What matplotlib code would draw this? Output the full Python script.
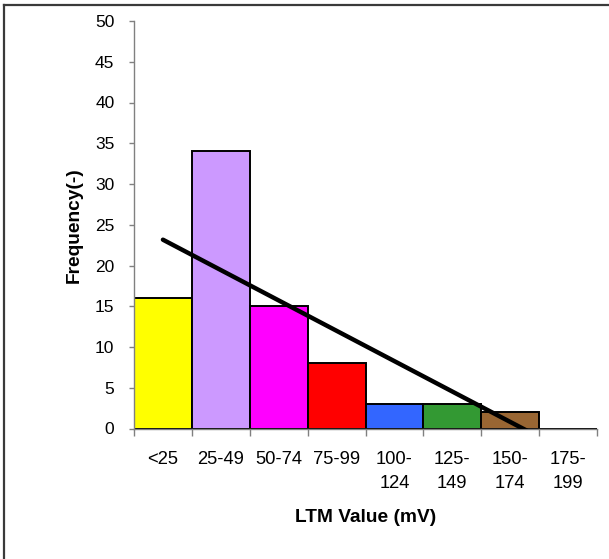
import numpy as np
import matplotlib.pyplot as plt
from matplotlib.lines import Line2D

# Frequency of LTM values per 25 mV bin
categories = ["<25", "25-49", "50-74", "75-99", "100-\n124", "125-\n149", "150-\n174", "175-\n199"]
counts = [16, 34, 15, 8, 3, 3, 2, 0]
bar_colors = ["#FFFF00", "#CC99FF", "#FF00FF", "#FF0000", "#3366FF", "#339933", "#996633", "#FFFFFF"]

plt.rcParams["font.family"] = ["Liberation Sans", "DejaVu Sans"]

fig = plt.figure(figsize=(6.09, 5.59), dpi=100)
ax = fig.add_axes([134 / 609, 1 - 428.5 / 559, 463 / 609, 407.5 / 559])

x = np.arange(1, len(counts) + 1)
ax.bar(x, counts, width=1.0, color=bar_colors, edgecolor="black", linewidth=1.4, zorder=2)

# linear trend over all bins
slope, icpt = np.polyfit(x, counts, 1)
ax.plot([1, 8], [icpt + slope * 1, icpt + slope * 8], color="black", linewidth=3.2,
        solid_capstyle="round", zorder=3)

ax.set_xlim(0.5, 8.5)
ax.set_ylim(0, 50)
ax.set_yticks(np.arange(0, 51, 5))

# ticks at bin edges, labels at bin centres
ax.set_xticks(np.arange(0.5, 9, 1))
ax.set_xticklabels([])
ax.set_xticks(x, minor=True)
ax.set_xticklabels(categories, minor=True, linespacing=1.55, va="top")
ax.tick_params(axis="x", which="major", length=4.7, width=1, color="#808080", direction="out")
ax.tick_params(axis="x", which="minor", length=0, pad=16, labelsize=13.2)
ax.tick_params(axis="y", length=3.6, width=1, color="#808080", labelsize=12.5, pad=10.5)

for side in ["top", "right"]:
    ax.spines[side].set_visible(False)
for side in ["left", "bottom"]:
    ax.spines[side].set_color("#808080")
    ax.spines[side].set_linewidth(1)

ax.set_xlabel("LTM Value (mV)", fontsize=13.8, fontweight="bold", labelpad=12)
ax.set_ylabel("Frequency(-)", fontsize=13.8, fontweight="bold", labelpad=9)

# frame lines along the top and left of the figure
fig.add_artist(Line2D([3.5 / 609, 1], [1 - 5 / 559, 1 - 5 / 559], color="#3a3a3a", linewidth=1.6))
fig.add_artist(Line2D([3.5 / 609, 3.5 / 609], [0, 1 - 5 / 559], color="#3a3a3a", linewidth=1.6))

fig.savefig("out.png", dpi=100)
